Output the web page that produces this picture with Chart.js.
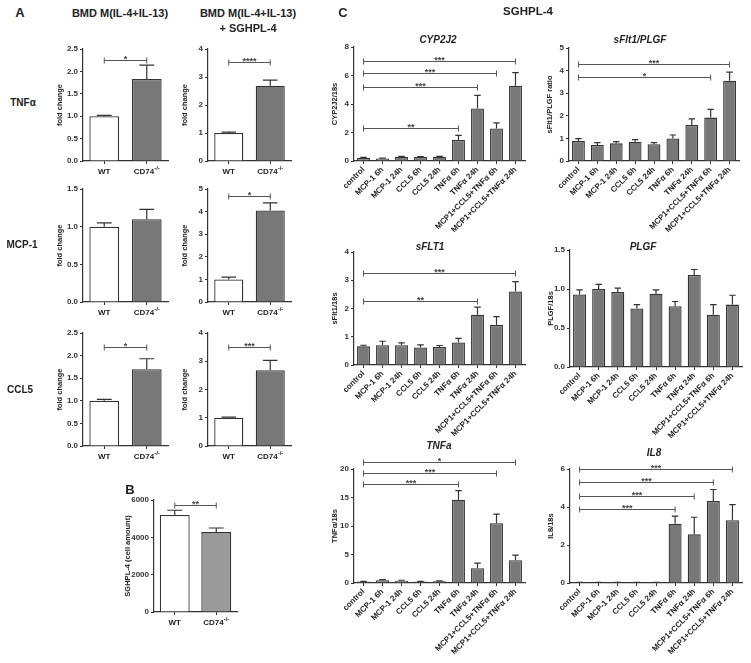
<!DOCTYPE html>
<html>
<head>
<meta charset="utf-8">
<title>CD74 / SGHPL-4</title>
<script src="https://cdn.jsdelivr.net/npm/chart.js@4.4.0/dist/chart.umd.min.js"></script>
<style>
  html, body { margin: 0; padding: 0; background: #fff; }
  #fig { position: relative; width: 751px; height: 663px; overflow: hidden;
         font-family: 'Liberation Sans', Arial, sans-serif; color: #222; }
  #fig canvas { position: absolute; }
  .txt { position: absolute; font-weight: bold; white-space: nowrap; transform: translate(-50%, -50%); line-height: 1; }
</style>
</head>
<body>
<div id="fig"></div>
<script>
// ============================================
// DATA
// ============================================

// Panel A — fold change, WT vs CD74-/-
const aLabels = ['WT', 'CD74'];
const tnfBmd = [1.0, 1.83];
const tnfBmdSem = [0.02, 0.31];
const tnfSgh = [1.0, 2.69];
const tnfSghSem = [0.03, 0.2];
const mcpBmd = [1.0, 1.1];
const mcpBmdSem = [0.05, 0.13];
const mcpSgh = [1.0, 4.05];
const mcpSghSem = [0.1, 0.34];
const cclBmd = [1.0, 1.7];
const cclBmdSem = [0.03, 0.23];
const cclSgh = [1.0, 2.68];
const cclSghSem = [0.02, 0.35];

// Panel B — SGHPL-4 cell amount
const cellAmount = [5200, 4280];
const cellAmountSem = [250, 220];

// Panel C — SGHPL-4 expression
const cLabels = ['control', 'MCP-1 6h', 'MCP-1 24h', 'CCL5 6h', 'CCL5 24h', 'TNFα 6h', 'TNFα 24h',
  'MCP1+CCL5+TNFα 6h', 'MCP1+CCL5+TNFα 24h'];
const cyp2j2 = [0.22, 0.18, 0.3, 0.28, 0.3, 1.47, 3.68, 2.28, 5.28];
const cyp2j2Sem = [0.03, 0.02, 0.03, 0.03, 0.03, 0.33, 0.92, 0.4, 0.92];
const ratio = [0.88, 0.71, 0.78, 0.85, 0.74, 1.0, 1.59, 1.92, 3.55];
const ratioSem = [0.11, 0.1, 0.08, 0.1, 0.07, 0.15, 0.27, 0.36, 0.38];
const sflt1 = [0.66, 0.7, 0.7, 0.62, 0.64, 0.8, 1.78, 1.42, 2.6];
const sflt1Sem = [0.04, 0.14, 0.08, 0.09, 0.05, 0.14, 0.27, 0.29, 0.35];
const plgf = [0.93, 1.0, 0.96, 0.75, 0.94, 0.78, 1.18, 0.67, 0.8];
const plgfSem = [0.06, 0.06, 0.05, 0.05, 0.05, 0.06, 0.07, 0.13, 0.12];
const tnfa = [0.25, 0.5, 0.4, 0.25, 0.3, 14.6, 2.6, 10.5, 4.0];
const tnfaSem = [0.05, 0.1, 0.08, 0.05, 0.06, 1.6, 0.9, 1.6, 0.9];
const il8 = [0.03, 0.02, 0.03, 0.03, 0.02, 3.12, 2.56, 4.32, 3.3];
const il8Sem = [0.01, 0.01, 0.01, 0.01, 0.01, 0.4, 0.9, 0.6, 0.82];

// significance brackets: [from bar, to bar, y value, stars]
const tnfBmdSig = [[0, 1, 2.25, '*']];
const tnfSghSig = [[0, 1, 3.55, '****']];
const mcpSghSig = [[0, 1, 4.7, '*']];
const cclBmdSig = [[0, 1, 2.2, '*']];
const cclSghSig = [[0, 1, 3.52, '***']];
const cellSig = [[0, 1, 5730, '**']];
const cyp2j2Sig = [[0, 8, 7.02, '***'], [0, 7, 6.15, '***'], [0, 6, 5.17, '***'], [0, 5, 2.3, '**']];
const ratioSig = [[0, 8, 4.28, '***'], [0, 7, 3.73, '*']];
const sflt1Sig = [[0, 8, 3.25, '***'], [0, 6, 2.28, '**']];
const tnfaSig = [[0, 8, 21.3, '*'], [0, 7, 19.3, '***'], [0, 5, 17.3, '***']];
const il8Sig = [[0, 8, 6.0, '***'], [0, 7, 5.33, '***'], [0, 6, 4.6, '***'], [0, 5, 3.9, '***']];

// ============================================
// STYLE
// ============================================
const FONT = "'Liberation Sans', Arial, sans-serif";
const INK = '#333';
const GREY = '#787878';
const fig = document.getElementById('fig');

// ============================================
// PLUGINS
// ============================================
const errorBars = {
  id: 'errorBars',
  afterDatasetsDraw(chart, args, opts) {
    const sem = opts.sem || [];
    const vals = chart.data.datasets[0].data;
    const y = chart.scales.y;
    const ctx = chart.ctx;
    ctx.save();
    ctx.strokeStyle = INK;
    ctx.lineWidth = 1.2;
    chart.getDatasetMeta(0).data.forEach((bar, i) => {
      const top = y.getPixelForValue(vals[i] + sem[i]);
      const half = bar.width / 4;
      ctx.beginPath();
      ctx.moveTo(bar.x, bar.y);
      ctx.lineTo(bar.x, top);
      ctx.moveTo(bar.x - half, top);
      ctx.lineTo(bar.x + half, top);
      ctx.stroke();
    });
    ctx.restore();
  }
};

const sigBrackets = {
  id: 'sigBrackets',
  afterDraw(chart, args, opts) {
    const x = chart.scales.x, y = chart.scales.y, ctx = chart.ctx;
    ctx.save();
    ctx.strokeStyle = '#555';
    ctx.fillStyle = '#444';
    ctx.lineWidth = 1;
    ctx.font = 'bold 9px ' + FONT;
    ctx.textAlign = 'center';
    ctx.textBaseline = 'alphabetic';
    (opts.list || []).forEach(([a, b, v, stars]) => {
      const x1 = x.getPixelForValue(a), x2 = x.getPixelForValue(b);
      const py = Math.round(y.getPixelForValue(v)) + 0.5;
      ctx.beginPath();
      ctx.moveTo(x1, py); ctx.lineTo(x2, py);
      ctx.moveTo(x1, py - 3); ctx.lineTo(x1, py + 3);
      ctx.moveTo(x2, py - 3); ctx.lineTo(x2, py + 3);
      ctx.stroke();
      ctx.fillText(stars, (x1 + x2) / 2, py + 1.5);
    });
    ctx.restore();
  }
};

// WT / CD74-/- labels with superscript
const koLabels = {
  id: 'koLabels',
  afterDraw(chart, args, opts) {
    if (!opts.show) return;
    const x = chart.scales.x, ctx = chart.ctx;
    const ty = chart.chartArea.bottom + 11;
    const labels = chart.data.labels;
    ctx.save();
    ctx.fillStyle = '#222';
    ctx.textBaseline = 'middle';
    ctx.font = 'bold 8px ' + FONT;
    ctx.textAlign = 'center';
    ctx.fillText(labels[0], x.getPixelForValue(0), ty);
    const sup = '-/-';
    const wb = ctx.measureText(labels[1]).width;
    ctx.font = 'bold 6px ' + FONT;
    const ws = ctx.measureText(sup).width;
    const start = x.getPixelForValue(1) - (wb + ws) / 2;
    ctx.textAlign = 'left';
    ctx.fillText(sup, start + wb, ty - 4);
    ctx.font = 'bold 8px ' + FONT;
    ctx.fillText(labels[1], start, ty);
    ctx.restore();
  }
};

// ============================================
// HELPERS
// ============================================
function addText(str, x, y, size, italic) {
  const d = document.createElement('div');
  d.className = 'txt';
  d.textContent = str;
  d.style.left = x + 'px';
  d.style.top = y + 'px';
  d.style.fontSize = size + 'px';
  if (italic) d.style.fontStyle = 'italic';
  fig.appendChild(d);
}

// plot = [left, top, right, bottom] of the plot area on the page
function makeChart(cfg) {
  const [l, t, r, b] = cfg.plot;
  const yw = cfg.yw, xh = cfg.xh, padTop = 22, padRight = 8;
  const w = (r - l) + yw + padRight, h = (b - t) + padTop + xh;
  const cv = document.createElement('canvas');
  cv.width = w; cv.height = h;
  cv.style.left = (l - yw) + 'px';
  cv.style.top = (t - padTop) + 'px';
  cv.style.width = w + 'px';
  cv.style.height = h + 'px';
  fig.appendChild(cv);

  const many = cfg.labels.length > 2;
  return new Chart(cv, {
    type: 'bar',
    data: {
      labels: cfg.labels,
      datasets: [{
        data: cfg.values,
        backgroundColor: cfg.colors || GREY,
        borderColor: INK,
        borderWidth: 1.3,
        barPercentage: cfg.barPct,
        categoryPercentage: 1
      }]
    },
    options: {
      responsive: false,
      animation: false,
      devicePixelRatio: 1,
      layout: { padding: { top: padTop, right: padRight, left: 0, bottom: 0 } },
      plugins: {
        legend: { display: false },
        tooltip: { enabled: false },
        errorBars: { sem: cfg.sem },
        sigBrackets: { list: cfg.sig || [] },
        koLabels: { show: !many }
      },
      scales: {
        x: {
          grid: { offset: false, drawOnChartArea: false, tickLength: 3, color: INK },
          border: { display: true, color: INK, width: 1.2 },
          ticks: {
            display: many,
            autoSkip: false,
            maxRotation: 45,
            minRotation: 45,
            padding: 1,
            color: '#222',
            font: { family: FONT, size: 8, weight: 'bold' }
          },
          afterFit: s => { s.height = xh; }
        },
        y: {
          min: 0,
          max: cfg.yMax,
          grid: { drawOnChartArea: false, tickLength: 3, color: INK },
          border: { display: true, color: INK, width: 1.2 },
          ticks: {
            stepSize: cfg.step,
            padding: 2,
            color: INK,
            font: { family: FONT, size: 8, weight: 'bold' },
            callback: v => Number(v).toFixed(cfg.dec || 0)
          },
          title: {
            display: true,
            text: cfg.yTitle,
            padding: 0,
            color: '#222',
            font: { family: FONT, size: 7.5, weight: 'bold' }
          },
          afterFit: s => { s.width = yw; }
        }
      }
    },
    plugins: [errorBars, sigBrackets, koLabels]
  });
}

// ============================================
// PANEL A
// ============================================
const koColors = ['#ffffff', GREY];
const aCommon = { labels: aLabels, colors: koColors, barPct: 0.7, yw: 28, xh: 18, yTitle: 'fold change' };

makeChart({ ...aCommon, plot: [83, 49, 168, 161], yMax: 2.5, step: 0.5, dec: 1, values: tnfBmd, sem: tnfBmdSem, sig: tnfBmdSig });
makeChart({ ...aCommon, plot: [208, 49, 291, 161], yMax: 4, step: 1, values: tnfSgh, sem: tnfSghSem, sig: tnfSghSig });
makeChart({ ...aCommon, plot: [83, 189, 168, 302], yMax: 1.5, step: 0.5, dec: 1, values: mcpBmd, sem: mcpBmdSem });
makeChart({ ...aCommon, plot: [208, 189, 291, 302], yMax: 5, step: 1, values: mcpSgh, sem: mcpSghSem, sig: mcpSghSig });
makeChart({ ...aCommon, plot: [83, 333, 168, 446], yMax: 2.5, step: 0.5, dec: 1, values: cclBmd, sem: cclBmdSem, sig: cclBmdSig });
makeChart({ ...aCommon, plot: [208, 333, 291, 446], yMax: 4, step: 1, values: cclSgh, sem: cclSghSem, sig: cclSghSig });

// ============================================
// PANEL B
// ============================================
makeChart({ labels: aLabels, colors: ['#ffffff', '#9a9a9a'], barPct: 0.72, yw: 31, xh: 18,
  yTitle: 'SGHPL-4 (cell amount)', plot: [154, 500, 237, 612], yMax: 6000, step: 2000,
  values: cellAmount, sem: cellAmountSem, sig: cellSig });

// ============================================
// PANEL C
// ============================================
const cCommon = { labels: cLabels, barPct: 0.68, yw: 24, xh: 74 };

makeChart({ ...cCommon, plot: [354, 47, 525, 161], yMax: 8, step: 2, values: cyp2j2, sem: cyp2j2Sem, sig: cyp2j2Sig, yTitle: 'CYP2J2/18s' });
makeChart({ ...cCommon, plot: [569, 48, 739, 161], yMax: 5, step: 1, values: ratio, sem: ratioSem, sig: ratioSig, yTitle: 'sFlt1/PLGF ratio' });
makeChart({ ...cCommon, plot: [354, 252, 525, 365], yMax: 4, step: 1, values: sflt1, sem: sflt1Sem, sig: sflt1Sig, yTitle: 'sFlt1/18s' });
makeChart({ ...cCommon, plot: [570, 250, 742, 367], yMax: 1.5, step: 0.5, dec: 1, values: plgf, sem: plgfSem, yTitle: 'PLGF/18s' });
makeChart({ ...cCommon, plot: [354, 469, 525, 583], yMax: 20, step: 5, values: tnfa, sem: tnfaSem, sig: tnfaSig, yTitle: 'TNFα/18s' });
makeChart({ ...cCommon, plot: [570, 469, 742, 583], yMax: 6, step: 2, values: il8, sem: il8Sem, sig: il8Sig, yTitle: 'IL8/18s' });

// ============================================
// TEXT
// ============================================
addText('A', 20, 12, 13);
addText('BMD M(IL-4+IL-13)', 120, 13, 11);
addText('BMD M(IL-4+IL-13)', 248, 13, 11);
addText('+ SGHPL-4', 248, 28, 11);
addText('TNFα', 23, 103, 10);
addText('MCP-1', 22, 245, 10);
addText('CCL5', 20, 390, 10);
addText('B', 130, 489, 13);
addText('C', 343, 12, 13);
addText('SGHPL-4', 528, 12, 11.5);
addText('CYP2J2', 438, 40, 10, true);
addText('sFlt1/PLGF', 640, 40, 10, true);
addText('sFLT1', 430, 247, 10, true);
addText('PLGF', 643, 247, 10, true);
addText('TNFa', 439, 446, 10, true);
addText('IL8', 654, 453, 10, true);
</script>
</body>
</html>
